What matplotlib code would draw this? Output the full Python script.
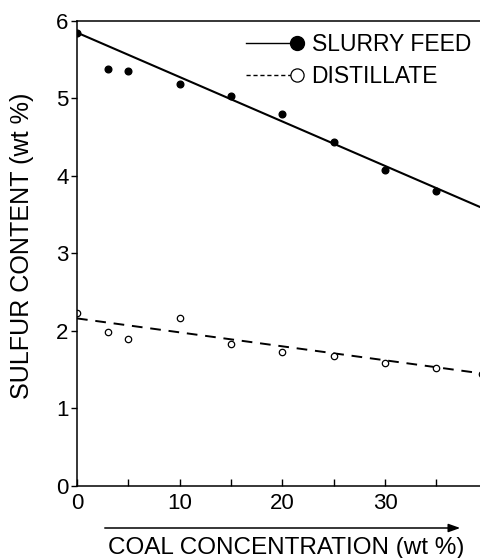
import numpy as np
import matplotlib
matplotlib.use("Agg")
import matplotlib.pyplot as plt
from matplotlib.legend_handler import HandlerBase
from matplotlib.lines import Line2D
from matplotlib.patches import FancyArrowPatch

plt.rcParams["font.family"] = ["Liberation Sans", "DejaVu Sans"]

# data
coal_conc = [0, 3, 5, 10, 15, 20, 25, 30, 35]
slurry_sulfur = [5.85, 5.38, 5.35, 5.19, 5.03, 4.80, 4.44, 4.08, 3.80]
distill_conc = [0, 3, 5, 10, 15, 20, 25, 30, 35, 39.4]
distill_sulfur = [2.23, 1.99, 1.90, 2.17, 1.83, 1.72, 1.68, 1.58, 1.52, 1.44]

# fitted lines (end points)
slurry_fit_x = [0, 39.4]
slurry_fit_y = [5.85, 3.59]
distill_fit_x = [0, 39.4]
distill_fit_y = [2.16, 1.45]

x_ticks = [0, 10, 20, 30]
y_ticks = [0, 1, 2, 3, 4, 5, 6]


class HandlerMarkerRight(HandlerBase):
    """Legend handle: line on the left, marker sitting at its right end."""

    def create_artists(self, legend, orig_handle, xdescent, ydescent,
                       width, height, fontsize, trans):
        y = (height - ydescent) / 2
        x0, x1 = -xdescent, -xdescent + width
        line = Line2D([x0, x1], [y, y])
        self.update_prop(line, orig_handle, legend)
        line.set_marker("None")
        mark = Line2D([x1], [y])
        self.update_prop(mark, orig_handle, legend)
        mark.set_linestyle("None")
        line.set_transform(trans)
        mark.set_transform(trans)
        return [line, mark]


W, H = 481, 558
fig = plt.figure(figsize=(W / 100, H / 100), dpi=100)
ax = fig.add_axes([77 / W, 1 - 485.7 / H, 1 - 77 / W, (485.7 - 21) / H])

ax.plot(slurry_fit_x, slurry_fit_y, color="black", lw=1.5, solid_capstyle="butt")
ax.plot(distill_fit_x, distill_fit_y, color="black", lw=1.4, ls=(0, (5.5, 4)))
ax.plot(coal_conc, slurry_sulfur, "o", color="black", ms=4.8, ls="none")
ax.plot(distill_conc, distill_sulfur, "o", mfc="white", mec="black", mew=0.9,
        ms=4.6, ls="none")

ax.set_xlim(0, 39.35)
ax.set_ylim(0, 6)
ax.set_xticks(x_ticks)
ax.set_xticks(np.arange(5, 40, 10), minor=True)
ax.set_yticks(y_ticks)
ax.tick_params(axis="x", which="both", direction="in", length=5, width=1,
               labelsize=16, pad=5)
ax.tick_params(axis="y", direction="out", length=4, width=1, labelsize=16, pad=2)
ax.spines["right"].set_visible(False)
for s in ("left", "bottom", "top"):
    ax.spines[s].set_linewidth(1.1)

h_slurry = Line2D([], [], color="black", lw=1.0, marker="o", ms=10)
h_distill = Line2D([], [], color="black", lw=1.0, ls=(0, (3, 2)), marker="o",
                   ms=9.5, mfc="white", mew=0.9)
ax.legend([h_slurry, h_distill], ["SLURRY FEED", "DISTILLATE"],
          handler_map={Line2D: HandlerMarkerRight()},
          loc="upper right", bbox_to_anchor=(0.975, 0.975), frameon=False,
          fontsize=16.5, handlelength=2.2, handletextpad=0.65,
          labelspacing=0.42, borderpad=0, borderaxespad=0)

fig.text(22 / W, 1 - 246 / H, "SULFUR CONTENT (wt %)", rotation=90,
         ha="center", va="center", fontsize=18.1)
fig.text(286 / W, 1 - 548 / H, "COAL CONCENTRATION (wt %)",
         ha="center", va="center", fontsize=17.5)
fig.add_artist(FancyArrowPatch(
    (102 / W, 1 - 528 / H), (463 / W, 1 - 528 / H),
    transform=fig.transFigure, arrowstyle="-|>,head_length=7,head_width=2.5",
    color="black", lw=1.1, mutation_scale=1))

fig.savefig("out.png", dpi=100)
